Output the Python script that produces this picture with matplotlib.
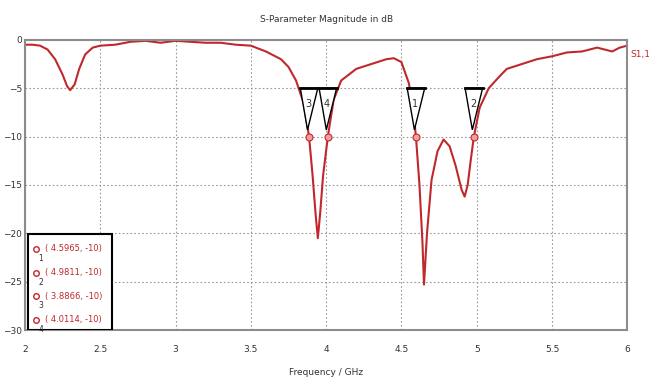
import numpy as np
import matplotlib.pyplot as plt
from matplotlib.patches import Polygon

# S1,1 courbe
freq = [2.0, 2.05, 2.1, 2.15, 2.2, 2.25, 2.28, 2.3, 2.33, 2.36, 2.4, 2.45, 2.5, 2.6, 2.7, 2.8,
        2.9, 3.0, 3.1, 3.2, 3.3, 3.4, 3.5, 3.6, 3.7, 3.75, 3.8, 3.85, 3.8866, 3.91, 3.93, 3.945,
        3.96, 3.98, 4.0114, 4.05, 4.1, 4.2, 4.3, 4.4, 4.45, 4.5, 4.55, 4.58, 4.5965, 4.62, 4.64,
        4.65, 4.67, 4.7, 4.74, 4.78, 4.82, 4.86, 4.9, 4.92, 4.94, 4.96, 4.9811, 5.02, 5.08, 5.15,
        5.2, 5.3, 5.4, 5.5, 5.6, 5.7, 5.8, 5.85, 5.9, 5.95, 6.0]
s11 = [-0.5, -0.5, -0.6, -1.0, -2.0, -3.6, -4.8, -5.2, -4.6, -3.0, -1.5, -0.8, -0.6, -0.5, -0.2, -0.1,
       -0.3, -0.1, -0.2, -0.3, -0.3, -0.5, -0.6, -1.2, -2.0, -2.8, -4.2, -6.5, -10.0, -14.0, -18.0, -20.5,
       -18.0, -14.0, -10.0, -6.2, -4.2, -3.0, -2.5, -2.0, -1.9, -2.3, -4.5, -7.5, -10.0, -15.0, -21.0,
       -25.3, -20.0, -14.5, -11.5, -10.3, -11.0, -13.0, -15.5, -16.2, -15.0, -12.5, -10.0, -7.0, -5.0, -3.8,
       -3.0, -2.5, -2.0, -1.7, -1.3, -1.2, -0.8, -1.0, -1.2, -0.8, -0.6]

marqueurs_id = ["1", "2", "3", "4"]
marqueurs_f = [4.5965, 4.9811, 3.8866, 4.0114]
marqueurs_db = [-10, -10, -10, -10]

rouge = "#c0282d"

fig = plt.figure(figsize=(6.49, 3.87), dpi=100)
ax = fig.add_axes([0.0385, 0.147, 0.928, 0.75])
ax.plot(freq, s11, color=rouge, lw=1.5)
ax.set_xlim(2, 6)
ax.set_ylim(-30, 0)
ax.set_xticks([2, 2.5, 3, 3.5, 4, 4.5, 5, 5.5, 6])
ax.set_xticklabels(["2", "2.5", "3", "3.5", "4", "4.5", "5", "5.5", "6"])
ax.set_yticks([0, -5, -10, -15, -20, -25, -30])
ax.grid(True, color="#999999", ls=(0, (1.5, 2)), lw=0.8)
for sp in ax.spines.values():
    sp.set_color("#8c8c8c")
    sp.set_linewidth(1.5)
ax.tick_params(labelsize=6.5, colors="#333333", length=0)
ax.tick_params(axis="x", pad=11)
ax.tick_params(axis="y", pad=2)
ax.set_xlabel("Frequency / GHz", fontsize=6.5, color="#333333", labelpad=10)
ax.set_title("S-Parameter Magnitude in dB", fontsize=6.5, color="#333333", pad=13)
ax.text(1.005, -1.5, "S1,1", transform=ax.get_yaxis_transform(), color=rouge, fontsize=6.5,
        va="center", ha="left", clip_on=False)

# marqueurs triangulaires
for mid, mf, mdb in zip(marqueurs_id, marqueurs_f, marqueurs_db):
    tri = Polygon([[mf - 0.058, -5], [mf + 0.058, -5], [mf - 0.01, -9.3]], closed=True,
                  facecolor="white", edgecolor="black", lw=1.0, zorder=4)
    ax.add_patch(tri)
    ax.plot([mf - 0.062, mf + 0.062], [-5, -5], color="black", lw=2, zorder=5)
    ax.text(mf - 0.005, -6.6, mid, ha="center", va="center", fontsize=7, color="#333333", zorder=6)
    ax.plot(mf, mdb, "o", ms=5, mfc="#f0a0a0", mec=rouge, mew=0.8, zorder=6)

# boite legende
box = plt.Rectangle((2.02, -30), 0.56, 9.9, facecolor="white", edgecolor="black", lw=1.5, zorder=7)
ax.add_patch(box)
for i, (mid, mf, mdb) in enumerate(zip(marqueurs_id, marqueurs_f, marqueurs_db)):
    y = -21.6 - i * 2.45
    ax.plot(2.07, y, "o", ms=4, mfc="white", mec=rouge, mew=1.0, zorder=8)
    ax.text(2.09, y - 1.0, mid, fontsize=5.5, color="#333333", va="center", zorder=8)
    ax.text(2.13, y, f"( {mf}, {mdb})", fontsize=6, color=rouge, va="center", zorder=8)

fig.savefig("out.png")
